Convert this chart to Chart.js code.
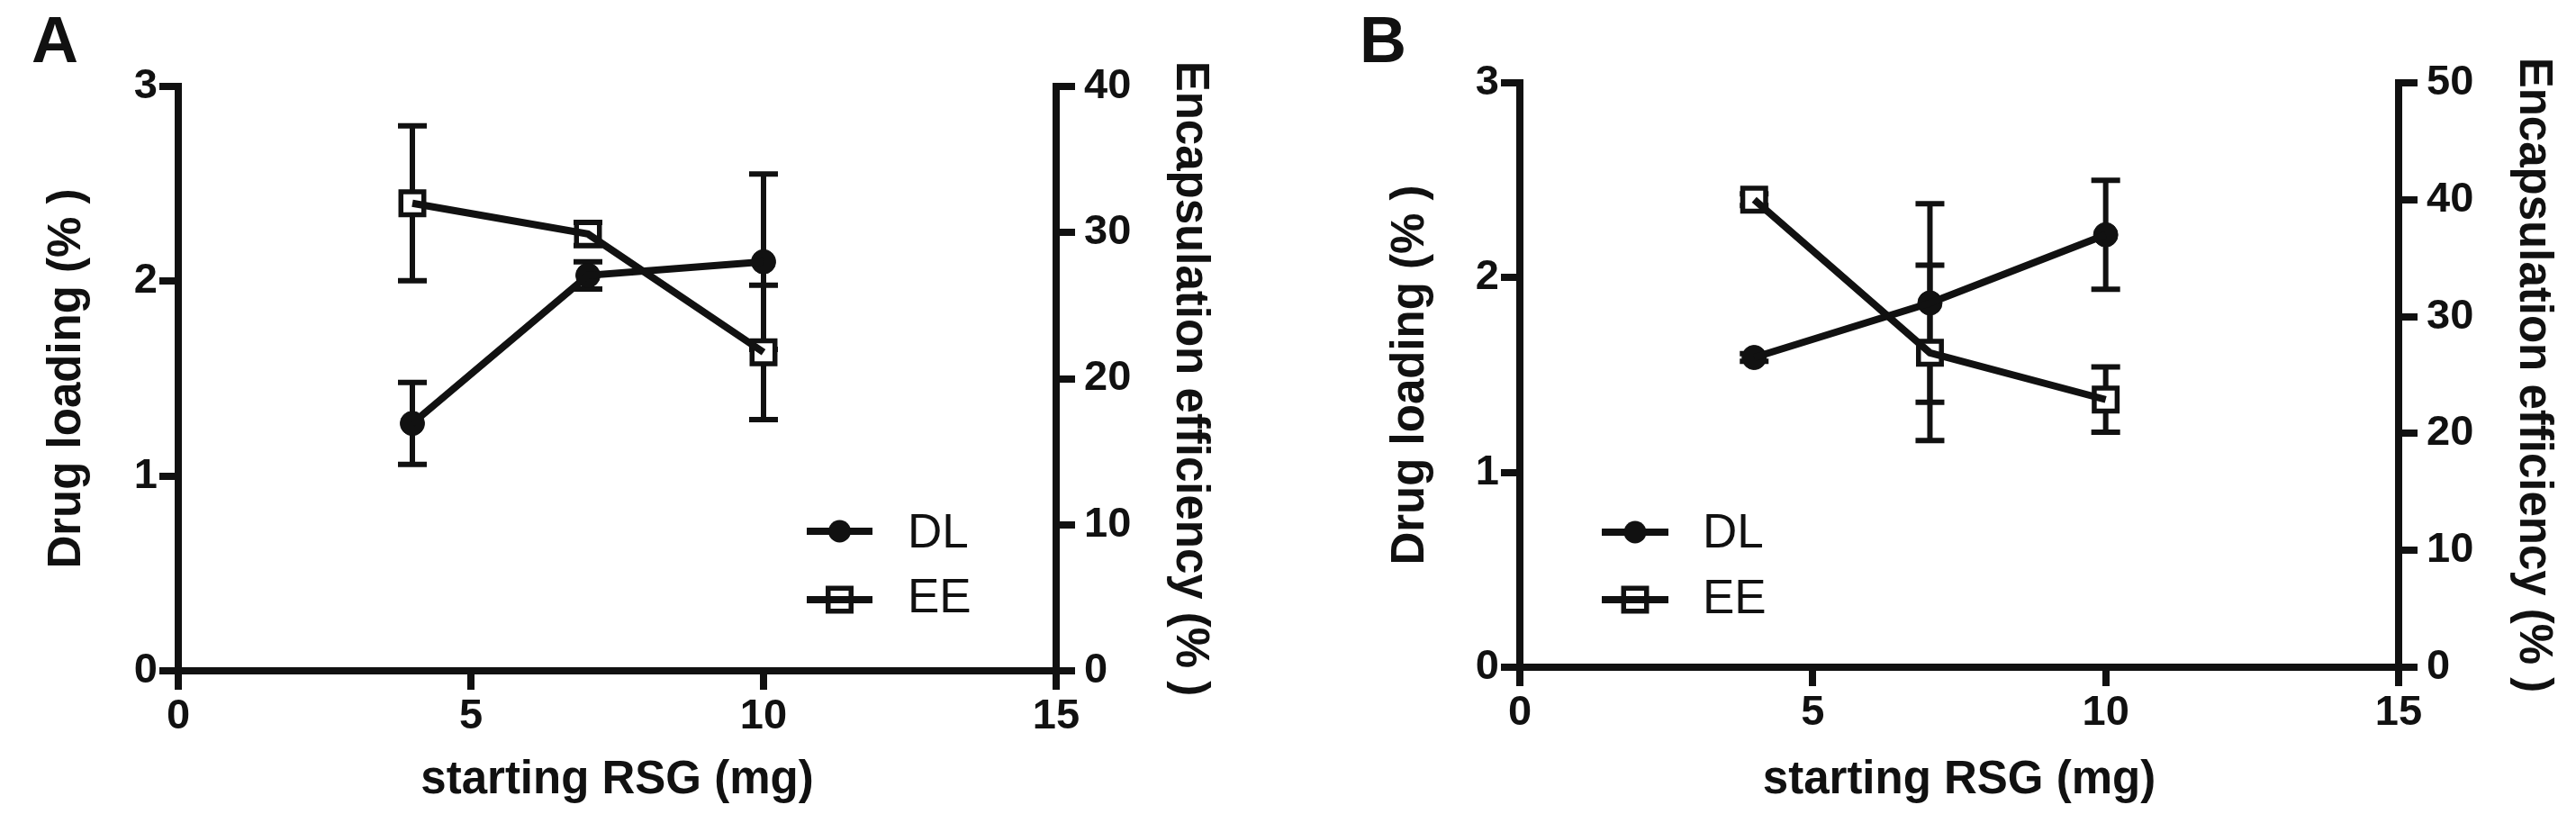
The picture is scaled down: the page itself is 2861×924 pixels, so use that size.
<!DOCTYPE html>
<html><head><meta charset="utf-8">
<script src="https://cdn.jsdelivr.net/npm/chart.js@4.4.1/dist/chart.umd.min.js"></script>
<style>
html,body{margin:0;padding:0;background:#fff;width:2861px;height:924px;overflow:hidden;}
.panel{position:absolute;top:0;height:924px;}
.lbl{position:absolute;top:8px;font:bold 72px 'Liberation Sans',Arial,sans-serif;line-height:72px;color:#111;}
</style></head><body>
<div class="panel" style="left:0;width:1430px"><canvas id="ca" width="1430" height="924"></canvas></div>
<div class="panel" style="left:1430px;width:1431px"><canvas id="cb" width="1431" height="924"></canvas></div>
<div class="lbl" style="left:35px">A</div>
<div class="lbl" style="left:1510px">B</div>
<script>
// ---- data ----
const xValues = [4, 7, 10];
const xTicks = [0, 5, 10, 15];
const dlTicks = [0, 1, 2, 3];
const eeTicksA = [0, 10, 20, 30, 40];
const eeTicksB = [0, 10, 20, 30, 40, 50];
const seriesNames = ['DL', 'EE'];
const xTitle = 'starting RSG (mg)';
const yTitle = 'Drug loading (% )';
const y2Title = 'Encapsulation efficiency (% )';

const dlA = [1.27, 2.03, 2.10];
const dlErrA = [0.21, 0.07, 0.45];
const eeA = [32.0, 29.9, 21.8];
const eeErrA = [5.3, 0.8, 4.6];

const dlB = [1.59, 1.87, 2.22];
const dlErrB = [0.02, 0.51, 0.28];
const eeB = [40.0, 26.9, 22.9];
const eeErrB = [0.5, 7.5, 2.8];

// ---- style ----
const INK = '#111';
const FONT = "'Liberation Sans', Arial, sans-serif";
const tickFont = {family: FONT, size: 47, weight: 'bold'};
const titleFont = {family: FONT, size: 51, weight: 'bold'};

const errorBars = {
  id: 'errorBars',
  beforeDatasetsDraw(chart) {
    const ctx = chart.ctx;
    const xs = chart.scales.x;
    chart.data.datasets.forEach(ds => {
      if (!ds.errors) return;
      const ys = chart.scales[ds.yAxisID];
      ctx.save();
      ctx.strokeStyle = INK;
      ctx.lineWidth = 6;
      ctx.lineCap = 'butt';
      ds.data.forEach((pt, j) => {
        const e = ds.errors[j];
        const px = xs.getPixelForValue(pt.x);
        const t = ys.getPixelForValue(pt.y + e);
        const b = ys.getPixelForValue(pt.y - e);
        ctx.beginPath();
        ctx.moveTo(px, t); ctx.lineTo(px, b);
        ctx.moveTo(px - 16, t); ctx.lineTo(px + 16, t);
        ctx.moveTo(px - 16, b); ctx.lineTo(px + 16, b);
        ctx.stroke();
      });
      ctx.restore();
    });
  }
};

const panelLegend = {
  id: 'panelLegend',
  afterDraw(chart, args, o) {
    const ctx = chart.ctx;
    ctx.save();
    seriesNames.forEach((name, k) => {
      const ds = chart.data.datasets.find(d => d.label === name && d.showLine === false);
      const y = o.ys[k];
      ctx.strokeStyle = INK; ctx.lineWidth = 8;
      ctx.beginPath(); ctx.moveTo(o.x0, y); ctx.lineTo(o.x1, y); ctx.stroke();
      const cx = (o.x0 + o.x1) / 2;
      if (ds.pointStyle === 'circle') {
        ctx.fillStyle = INK;
        ctx.beginPath(); ctx.arc(cx, y, 12.5, 0, Math.PI * 2); ctx.fill();
      } else {
        const s = ds.pointRadius * Math.SQRT1_2;
        ctx.lineWidth = ds.pointBorderWidth;
        ctx.strokeRect(cx - s, y - s, 2 * s, 2 * s);
      }
      ctx.fillStyle = INK;
      ctx.font = `normal 53px ${FONT}`;
      ctx.textBaseline = 'alphabetic';
      ctx.textAlign = 'left';
      ctx.fillText(name, o.tx, o.tb[k]);
    });
    ctx.restore();
  }
};

function pts(vals) { return xValues.map((x, i) => ({x, y: vals[i]})); }

function makeChart(id, p) {
  const tickArr = (arr) => (s) => { s.ticks = arr.map(v => ({value: v})); };
  const common = (pos) => ({
    border: {display: true, color: INK, width: 8},
    grid: {display: true, drawOnChartArea: false, drawTicks: true, tickLength: 21,
           tickWidth: 8, tickColor: INK, lineWidth: 8, color: INK},
    ticks: {color: INK, font: tickFont, maxRotation: 0, autoSkip: false,
            padding: pos === 'right' ? 10 : 2}
  });
  const datasets = [
    // lines (drawn on top)
    {label: 'DL', data: pts(p.dl), yAxisID: 'y', borderColor: INK, borderWidth: 8,
     pointRadius: 0, showLine: true, order: 0},
    {label: 'EE', data: pts(p.ee), yAxisID: 'y2', borderColor: INK, borderWidth: 8,
     pointRadius: 0, showLine: true, order: 0},
    // markers
    {label: 'DL', data: pts(p.dl), errors: p.dlErr, yAxisID: 'y', showLine: false,
     pointStyle: 'circle', pointRadius: 13.5, pointBackgroundColor: INK, pointBorderColor: INK,
     pointBorderWidth: 1, order: 1},
    {label: 'EE', data: pts(p.ee), errors: p.eeErr, yAxisID: 'y2', showLine: false,
     pointStyle: 'rect', pointRadius: 18, pointBackgroundColor: '#fff', pointBorderColor: INK,
     pointBorderWidth: 5.5, order: 1}
  ];
  return new Chart(document.getElementById(id), {
    type: 'scatter',
    data: {datasets},
    plugins: [errorBars, panelLegend],
    options: {
      responsive: false, animation: false, devicePixelRatio: 1,
      layout: {padding: {top: p.top, left: 0, right: 0, bottom: 0}},
      plugins: {legend: {display: false}, tooltip: {enabled: false},
                panelLegend: p.legend},
      scales: {
        x: Object.assign(common('bottom'), {
          type: 'linear', position: 'bottom', min: 0, max: 15,
          afterBuildTicks: tickArr(xTicks),
          afterFit: s => { s.height = p.xH; },
          title: {display: true, text: xTitle, color: INK, font: titleFont,
                  padding: {top: 0, bottom: p.xTitlePad}}
        }),
        y: Object.assign(common('left'), {
          type: 'linear', position: 'left', min: 0, max: 3,
          afterBuildTicks: tickArr(dlTicks),
          afterFit: s => { s.width = p.yW; },
          title: {display: true, text: yTitle, color: INK, font: titleFont,
                  padding: {top: p.yTitlePad, bottom: 0}}
        }),
        y2: Object.assign(common('right'), {
          type: 'linear', position: 'right', min: 0, max: p.eeMax,
          afterBuildTicks: tickArr(p.eeTicks),
          afterFit: s => { s.width = p.y2W; },
          title: {display: true, text: y2Title, color: INK, font: titleFont,
                  padding: {top: p.y2TitlePad, bottom: 0}}
        })
      }
    }
  });
}

makeChart('ca', {
  dl: dlA, dlErr: dlErrA, ee: eeA, eeErr: eeErrA, eeMax: 40, eeTicks: eeTicksA,
  top: 96, yW: 198, y2W: 257, xH: 179,
  yTitlePad: 44, y2TitlePad: 78, xTitlePad: 26,
  legend: {x0: 896, x1: 969, tx: 1008, ys: [590, 666], tb: [608, 680]}
});
makeChart('cb', {
  dl: dlB, dlErr: dlErrB, ee: eeB, eeErr: eeErrB, eeMax: 50, eeTicks: eeTicksB,
  top: 92, yW: 258, y2W: 197, xH: 183,
  yTitlePad: 106, y2TitlePad: 17, xTitlePad: 26,
  legend: {x0: 349, x1: 423, tx: 461, ys: [591, 666], tb: [608, 681]}
});
</script>
</body></html>
